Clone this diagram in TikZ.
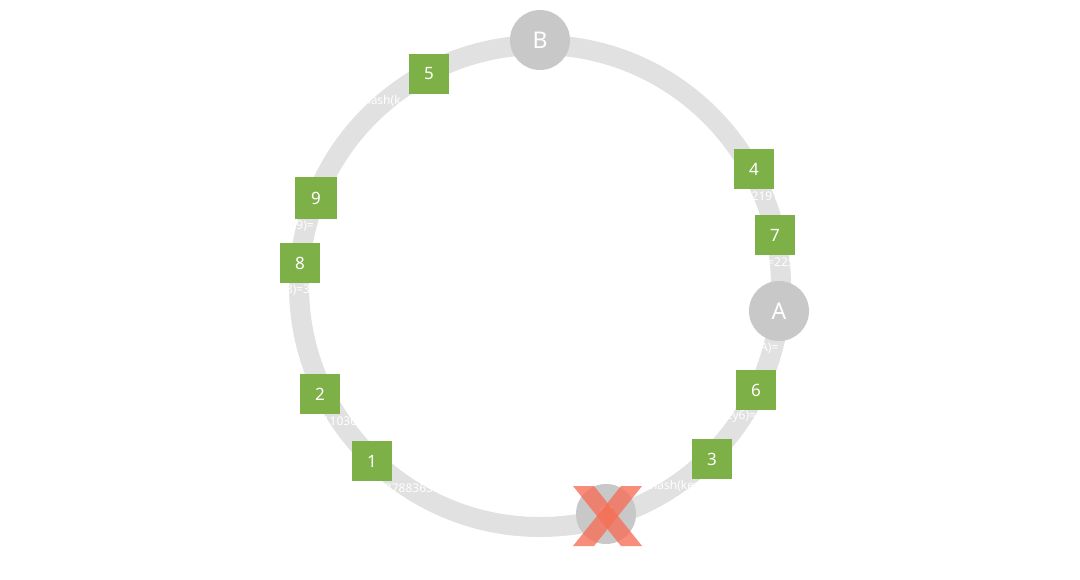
\documentclass[tikz,border=0pt]{standalone}
\usepackage{fontspec}
\setmainfont{Noto Sans}
\definecolor{ringgray}{HTML}{E1E1E1}
\definecolor{nodegray}{HTML}{C8C8C8}
\definecolor{keygreen}{HTML}{7DB046}
\definecolor{xred}{HTML}{F56E55}
\tikzset{
  ring/.style={draw=ringgray, line width=20pt},
  srv/.style={circle, fill=nodegray, minimum size=60pt, inner sep=0pt, text=white, font=\fontsize{23}{26}\selectfont},
  keybox/.style={rectangle, fill=keygreen, minimum size=40pt, inner sep=0pt, text=white, font=\fontsize{17}{20}\selectfont},
  lbl/.style={inner sep=0pt, text=white, font=\fontsize{12}{14}\selectfont},
  xmark/.style={fill=xred, fill opacity=0.78}
}
\begin{document}
\begin{tikzpicture}[x=1pt,y=-1pt]
\useasboundingbox (0,0) rectangle (1080,580);
\fill[white] (0,0) rectangle (1080,580);
% hash ring
\draw[ring] (540,286) circle[radius=241pt];
% server nodes
\node[srv] (B) at (540,40) {B};
\node[srv] (A) at (779,311) {A};
\node[srv] (C) at (606,514) {C};
% keys
\node[keybox] (k5) at (429,74) {5};
\node[keybox, minimum size=42pt] (k9) at (316,198) {9};
\node[keybox] (k8) at (300,263) {8};
\node[keybox] (k4) at (754,169) {4};
\node[keybox] (k7) at (775,235) {7};
\node[keybox] (k6) at (756,390) {6};
\node[keybox] (k2) at (320,394) {2};
\node[keybox] (k1) at (372,461) {1};
\node[keybox] (k3) at (712,459) {3};
% hash labels (white, visible only over the ring)
\node[lbl] (l5) at (382,101) {hash(k};
\node[lbl] (l9) at (302,227) {y9)=};
\node[lbl] (l8) at (298,290) {8)=3};
\node[lbl] (l4) at (762,196) {=2191};
\node[lbl] (l7) at (781,262) {=225};
\node[lbl] (lA) at (766,348) {eA)=};
\node[lbl] (l6) at (741,417) {ey6)=};
\node[lbl] (l2) at (340,421) {11030};
\node[lbl] (l1) at (409,488) {537883651};
\node[lbl] (l3) at (675,486) {hash(key};
% failed node mark
\fill[xmark] (573,486) -- (594,486) -- (642,546) -- (621,546) -- cycle;
\fill[xmark] (621,486) -- (642,486) -- (594,546) -- (573,546) -- cycle;
\end{tikzpicture}
\end{document}
